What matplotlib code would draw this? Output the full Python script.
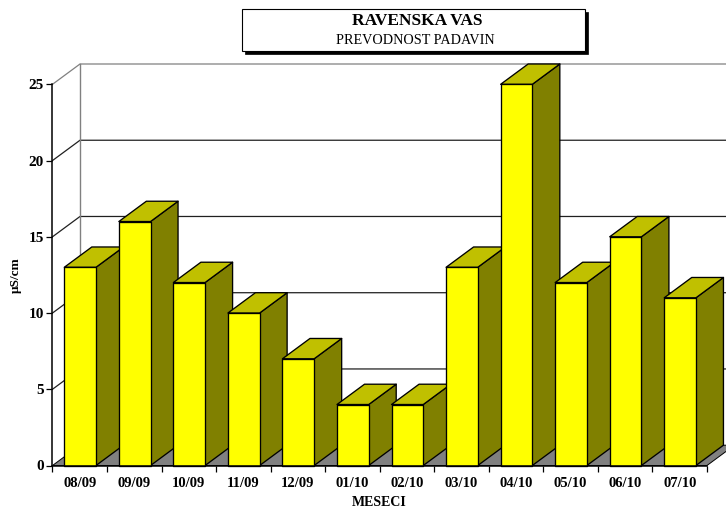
import numpy as np
import matplotlib
matplotlib.use('Agg')
import matplotlib.pyplot as plt
from matplotlib.patches import Rectangle

meseci = ['08/09', '09/09', '10/09', '11/09', '12/09', '01/10',
          '02/10', '03/10', '04/10', '05/10', '06/10', '07/10']
prevodnost = [13, 16, 12, 10, 7, 4, 4, 13, 25, 12, 15, 11]
y_ticks = [0, 5, 10, 15, 20, 25]

W, H = 726, 508
plt.rcParams['font.family'] = ['Liberation Serif', 'DejaVu Serif']

fig = plt.figure(figsize=(W / 100, H / 100), dpi=100)
# prednja ravnina grafa, v pikslih slike
left, right, bottom, top = 52.5, 707, 465.5, 84.3
ax = fig.add_axes([left / W, 1 - bottom / H, (right - left) / W, (bottom - top) / H])
ax.set_xlim(0, len(meseci))
ax.set_ylim(0, 25)
ax.patch.set_visible(False)

# globina 3D v enotah osi
dx = 27.5 / ((right - left) / len(meseci))
dy = 20.3 / ((bottom - top) / 25)
bar_off = 11.8 / ((right - left) / len(meseci))
bar_w = 31.7 / ((right - left) / len(meseci))
n = len(meseci)

# tla
ax.fill([0, dx, n + dx, n], [0, dy, dy, 0], facecolor='#808080', edgecolor='black',
        linewidth=0.7, clip_on=False, zorder=1)

# stena in mreza
for v in y_ticks[1:]:
    col = '#808080' if v == 25 else '#202020'
    ax.plot([0, dx, n + dx], [v, v + dy, v + dy], color=col, linewidth=0.9,
            clip_on=False, zorder=1, solid_joinstyle='miter')
ax.plot([dx, dx], [dy, 25 + dy], color='#808080', linewidth=1.0, clip_on=False, zorder=1)

# stolpci
for i, v in enumerate(prevodnost):
    x0 = i + bar_off
    x1 = x0 + bar_w
    kw = dict(edgecolor='black', linewidth=0.95, clip_on=False, zorder=2, joinstyle='round')
    ax.fill([x1, x1 + dx, x1 + dx, x1], [0, dy, v + dy, v], facecolor='#808000', **kw)
    ax.fill([x0, x0 + dx, x1 + dx, x1], [v, v + dy, v + dy, v], facecolor='#C0C000', **kw)
    ax.fill([x0, x1, x1, x0], [0, 0, v, v], facecolor='#FFFF00', **kw)

for s in ['top', 'right']:
    ax.spines[s].set_visible(False)
for s in ['left', 'bottom']:
    ax.spines[s].set_linewidth(1.1)
    ax.spines[s].set_zorder(3)

ax.set_yticks(y_ticks)
ax.set_xticks(np.arange(n + 1))
ax.set_xticks(np.arange(n) + 0.5, minor=True)
ax.set_xticklabels([])
ax.set_xticklabels(meseci, minor=True, fontsize=10.5, fontweight='bold')
ax.tick_params(axis='x', which='major', length=4.5, width=0.9, direction='out')
ax.tick_params(axis='x', which='minor', length=0, pad=8.5)
ax.tick_params(axis='y', length=4, width=0.9, pad=2.2, labelsize=11)
for lab in ax.get_yticklabels():
    lab.set_fontweight('bold')

fig.text(379 / W, 1 - 503 / H, 'MESECI', ha='center', va='center', fontsize=10, fontweight='bold')
fig.text(16 / W, 1 - 275 / H, '\u00b5S/cm', ha='center', va='center', rotation=90,
         fontsize=9.5, fontweight='bold')

# naslov
bx, by, bw, bh = 241.5, 9, 343, 42
fig.add_artist(Rectangle(((bx + 3) / W, 1 - (by + bh + 3) / H), bw / W, bh / H,
                         transform=fig.transFigure, facecolor='black', edgecolor='black', linewidth=0.5))
fig.add_artist(Rectangle((bx / W, 1 - (by + bh) / H), bw / W, bh / H,
                         transform=fig.transFigure, facecolor='white', edgecolor='black', linewidth=0.8))
fig.text(417 / W, 1 - 21 / H, 'RAVENSKA VAS', ha='center', va='center',
         fontsize=12.5, fontweight='bold')
fig.text(415 / W, 1 - 40.5 / H, 'PREVODNOST PADAVIN', ha='center', va='center', fontsize=10.2)

fig.savefig('out.png', dpi=100)
